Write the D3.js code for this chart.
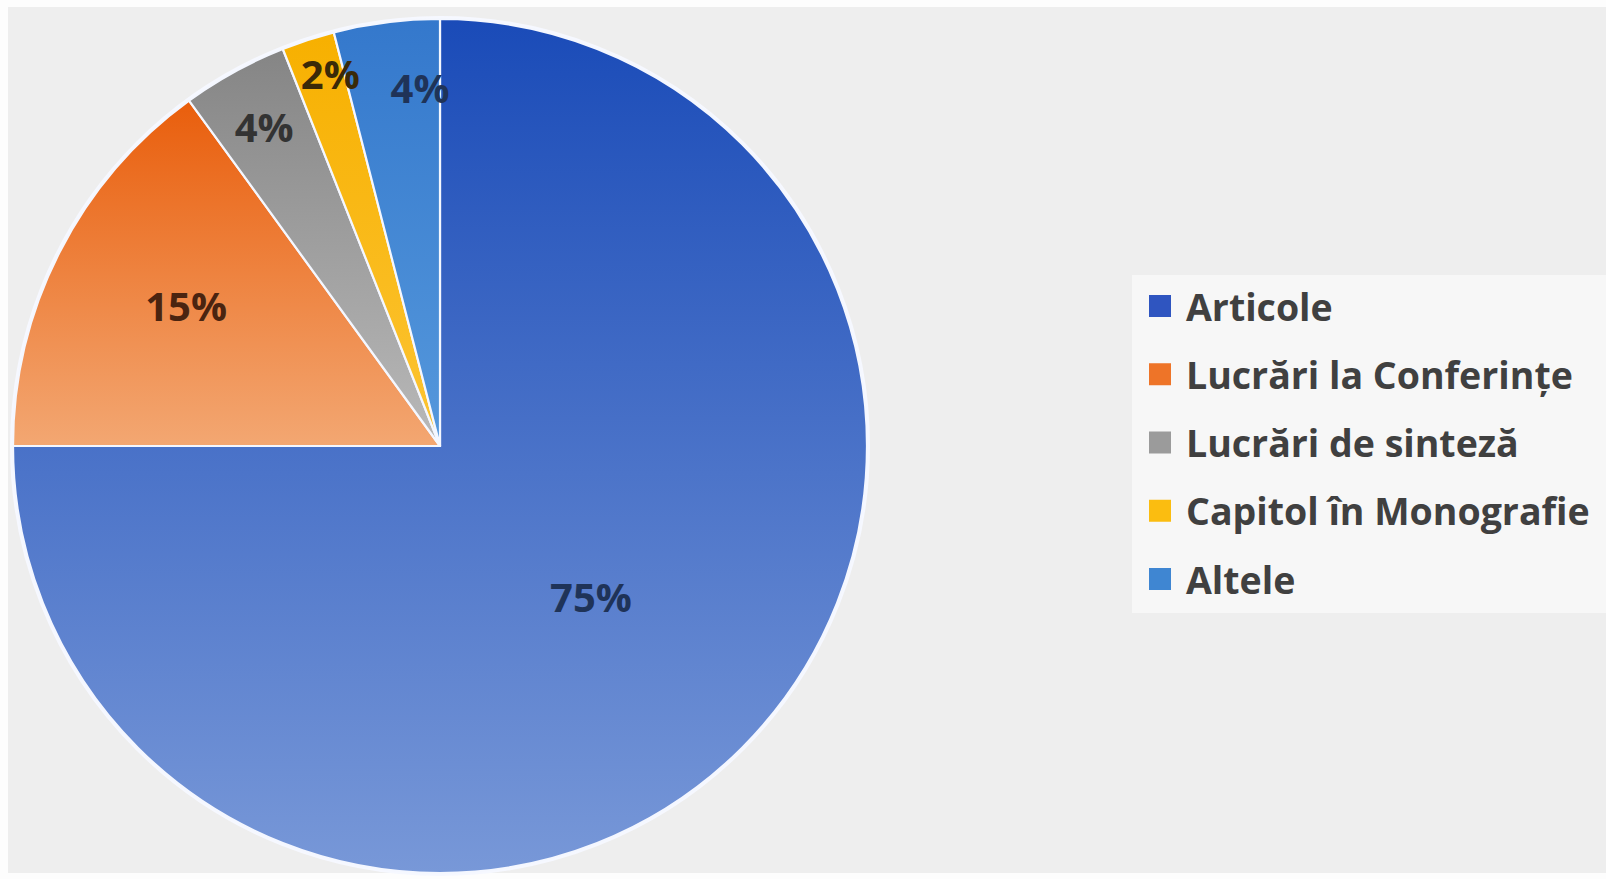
<!DOCTYPE html>
<html>
<head>
<meta charset="utf-8">
<script src="https://cdn.jsdelivr.net/npm/d3@7"></script>
<style>
  html, body { margin: 0; padding: 0; background: #ffffff; }
  svg { display: block; }
</style>
</head>
<body>
<svg id="chart" width="1606" height="879"></svg>
<script>
// Publication types and their shares (%)
const categories = ["Articole", "Lucrări la Conferințe", "Lucrări de sinteză", "Capitol în Monografie", "Altele"];
const shares = [75, 15, 4, 2, 4];
const valueLabels = ["75%", "15%", "4%", "2%", "4%"];

// Gradient stops per slice: [top colour, bottom colour]
const sliceColors = [
  ["#1a4bb8", "#7898d8"],
  ["#e95e0c", "#f3a772"],
  ["#858585", "#b9b9b9"],
  ["#f7b000", "#fcc433"],
  ["#3478cc", "#5598dc"]
];
const legendColors = ["#2f55c0", "#ee7428", "#9b9b9b", "#fbbd10", "#3f86d2"];

// Label placement: radius as a fraction of the pie radius, and angle nudge in degrees
const labelRadius = [0.5, 0.68, 0.855, 0.91, 0.84];
const labelNudge = [0, 2, 0, 1.6, 4];

const svg = d3.select("#chart");
const W = 1606, H = 879;

// page and chart area backgrounds
svg.append("rect").attr("width", W).attr("height", H).attr("fill", "#fdfdfd");
svg.append("rect").attr("x", 8).attr("y", 7).attr("width", W - 8).attr("height", 866).attr("fill", "#eeeeee");

const cx = 440, cy = 446, R = 427;

const defs = svg.append("defs");
sliceColors.forEach((c, i) => {
  const g = defs.append("linearGradient")
    .attr("id", "grad" + i)
    .attr("x1", 0).attr("y1", 0).attr("x2", 0).attr("y2", 1);
  g.append("stop").attr("offset", "0%").attr("stop-color", c[0]);
  g.append("stop").attr("offset", "100%").attr("stop-color", c[1]);
});

const pie = d3.pie().sort(null).value(d => d);
const arcs = pie(shares);
const arc = d3.arc().innerRadius(0).outerRadius(R);

const g = svg.append("g").attr("transform", `translate(${cx},${cy})`);

// soft halo round the pie edge
g.append("circle").attr("r", R + 1.5).attr("fill", "none")
  .attr("stroke", "#f6f8ff").attr("stroke-width", 3);

g.selectAll("path.slice")
  .data(arcs)
  .join("path")
  .attr("class", "slice")
  .attr("d", arc)
  .attr("fill", (d, i) => `url(#grad${i})`)
  .attr("stroke", "#f4f7ff")
  .attr("stroke-width", 2.2)
  .attr("stroke-linejoin", "round");

// value labels
g.selectAll("text.val")
  .data(arcs)
  .join("text")
  .attr("class", "val")
  .attr("transform", (d, i) => {
    const a = (d.startAngle + d.endAngle) / 2 + labelNudge[i] * Math.PI / 180;
    const r = R * labelRadius[i];
    return `translate(${r * Math.sin(a)},${-r * Math.cos(a)})`;
  })
  .attr("text-anchor", "middle")
  .attr("dominant-baseline", "central")
  .attr("font-family", "'Open Sans', sans-serif")
  .attr("font-weight", 700)
  .attr("font-size", 40)
  .attr("fill", (d, i) => i === 1 ? "#4a2410" : (i === 3 ? "#3a2a08" : (i === 2 ? "#333333" : "#1f3358")))
  .text((d, i) => valueLabels[i]);

// legend
const lg = svg.append("g");
lg.append("rect").attr("x", 1132).attr("y", 275).attr("width", W - 1132).attr("height", 338)
  .attr("fill", "#f7f7f7");

const rowY = d3.scalePoint().domain(categories).range([306, 579]);
const items = lg.selectAll("g.item").data(categories).join("g").attr("class", "item")
  .attr("transform", d => `translate(0,${rowY(d)})`);
items.append("rect")
  .attr("x", 1149).attr("y", -11).attr("width", 22).attr("height", 22)
  .attr("fill", (d, i) => legendColors[i]);
items.append("text")
  .attr("x", 1186).attr("y", 0)
  .attr("dominant-baseline", "central")
  .attr("font-family", "'Open Sans', sans-serif")
  .attr("font-weight", 700)
  .attr("font-size", 37.5)
  .attr("fill", "#404040")
  .text(d => d);
</script>
</body>
</html>
